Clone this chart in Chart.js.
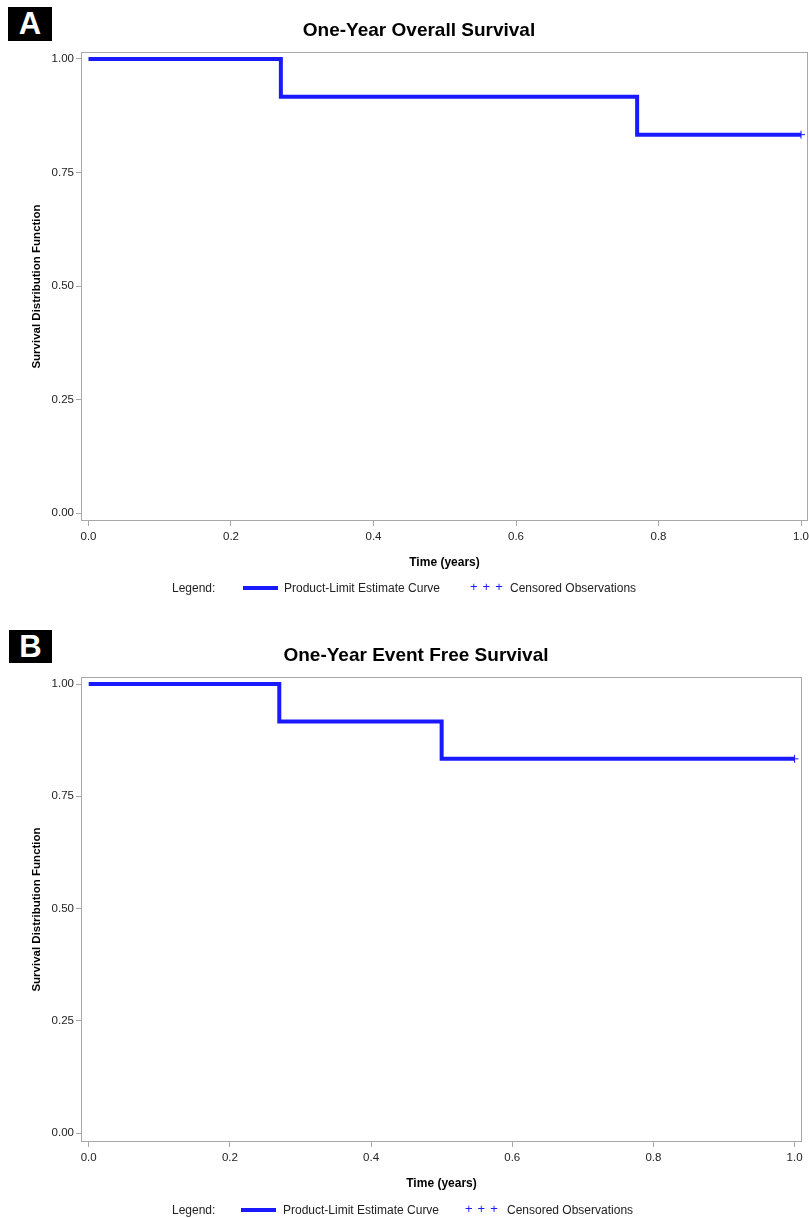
<!DOCTYPE html>
<html>
<head>
<meta charset="utf-8">
<script src="https://cdn.jsdelivr.net/npm/chart.js@4.4.1/dist/chart.umd.min.js"></script>
<style>
  body { margin: 0; background: #fff; font-family: "Liberation Sans", Arial, sans-serif; overflow: hidden; }
  .panel { position: absolute; left: 0; width: 809px; }
  .tag { position: absolute; background: #000; color: #fff; font-weight: bold; font-size: 31px;
         line-height: 34px; text-align: center; }
  .lg { position: absolute; font-size: 12px; color: #222; white-space: nowrap; line-height: 14px; }
  .lg.plus { color: #1a1aff; letter-spacing: 5px; font-size: 13px; }
  .lg.bar { height: 4px; background: #1a1aff; }
</style>
</head>
<body>

<div class="tag" style="left:8px;top:7px;width:44px;height:34px;">A</div>
<div class="panel" style="top:0;height:600px;width:815px;"><canvas id="chartA"></canvas></div>
<div class="lg" style="left:172px;top:581px;">Legend:</div>
<div class="lg bar" style="left:243px;top:586px;width:35px;"></div>
<div class="lg" style="left:284px;top:581px;">Product-Limit Estimate Curve</div>
<div class="lg plus" style="left:470px;top:580px;">+++</div>
<div class="lg" style="left:510px;top:581px;">Censored Observations</div>

<div class="tag" style="left:9px;top:630px;width:43px;height:33px;line-height:33px;">B</div>
<div class="panel" style="top:620px;height:598px;"><canvas id="chartB"></canvas></div>
<div class="lg" style="left:172px;top:1203px;">Legend:</div>
<div class="lg bar" style="left:241px;top:1208px;width:35px;"></div>
<div class="lg" style="left:283px;top:1203px;">Product-Limit Estimate Curve</div>
<div class="lg plus" style="left:465px;top:1202px;">+++</div>
<div class="lg" style="left:507px;top:1203px;">Censored Observations</div>

<script>
// tick labels
const timeTicks = [0, 0.2, 0.4, 0.6, 0.8, 1.0];
const survTicks = [0, 0.25, 0.5, 0.75, 1.0];

// A: one-year overall survival
const osTimes = [0, 0.27, 0.77, 1.0];
const osSurv = [1.0, 0.9167, 0.8333, 0.8333];
const osCensTimes = [1.0];
const osCensSurv = [0.8333];

// B: one-year event free survival
const efsTimes = [0, 0.27, 0.50, 1.0];
const efsSurv = [1.0, 0.9167, 0.8333, 0.8333];
const efsCensTimes = [1.0];
const efsCensSurv = [0.8333];

const blue = '#1a1aff';
const frameGrey = '#a8a8a8';

// draws the box round the plot area
const framePlugin = {
  id: 'frame',
  afterDraw(chart) {
    const a = chart.chartArea, ctx = chart.ctx;
    ctx.save();
    ctx.strokeStyle = frameGrey;
    ctx.lineWidth = 1;
    ctx.strokeRect(a.left + 0.5, a.top + 0.5, a.right - a.left - 1, a.bottom - a.top - 1);
    ctx.restore();
  }
};

function pts(xs, ys) {
  return xs.map((x, i) => ({ x: x, y: ys[i] }));
}

function makeChart(id, title, times, surv, censT, censS, lay) {
  new Chart(document.getElementById(id), {
    type: 'line',
    data: {
      datasets: [
        {
          data: pts(times, surv),
          borderColor: blue,
          borderWidth: 4,
          stepped: 'before',
          pointRadius: 0,
          fill: false
        },
        {
          type: 'scatter',
          data: pts(censT, censS),
          pointStyle: 'cross',
          pointRadius: 4,
          borderColor: blue,
          borderWidth: 1
        }
      ]
    },
    options: {
      animation: false,
      responsive: true,
      maintainAspectRatio: false,
      layout: { padding: { left: 30, right: lay.right, top: 0, bottom: lay.bottom } },
      plugins: {
        legend: { display: false },
        tooltip: { enabled: false },
        title: {
          display: true,
          text: title,
          color: '#000',
          font: { family: 'Liberation Sans', size: 19, weight: 'bold' },
          padding: { top: lay.titleTop, bottom: lay.titleBottom }
        }
      },
      scales: {
        x: {
          type: 'linear',
          min: lay.xMin, max: lay.xMax,
          afterBuildTicks: s => { s.ticks = timeTicks.map(v => ({ value: v })); },
          afterFit: s => { s.height = 50; },
          border: { display: false },
          grid: { drawOnChartArea: false, drawTicks: true, tickLength: 5, color: frameGrey },
          ticks: {
            color: '#222', padding: 4,
            font: { family: 'Liberation Sans', size: 11.5 },
            callback: v => v.toFixed(1)
          },
          title: {
            display: true, text: 'Time (years)', color: '#000',
            font: { family: 'Liberation Sans', size: 12, weight: 'bold' },
            padding: { top: 0, bottom: 1 }
          }
        },
        y: {
          type: 'linear',
          min: lay.yMin, max: lay.yMax,
          afterBuildTicks: s => { s.ticks = survTicks.map(v => ({ value: v })); },
          afterFit: s => { s.width = 51; },
          border: { display: false },
          grid: { drawOnChartArea: false, drawTicks: true, tickLength: 5, color: frameGrey },
          ticks: {
            color: '#222', padding: 2,
            font: { family: 'Liberation Sans', size: 11.5 },
            callback: v => v.toFixed(2)
          },
          title: {
            display: true, text: 'Survival Distribution Function', color: '#000',
            font: { family: 'Liberation Sans', size: 11.5, weight: 'bold' },
            padding: { top: 0, bottom: 0 }
          }
        }
      }
    },
    plugins: [framePlugin]
  });
}

makeChart('chartA', 'One-Year Overall Survival', osTimes, osSurv, osCensTimes, osCensSurv,
  { right: 7, bottom: 29, titleTop: 19.6, titleBottom: 9.6,
    xMin: -0.0105, xMax: 1.0098, yMin: -0.0176, yMax: 1.0154 });

makeChart('chartB', 'One-Year Event Free Survival', efsTimes, efsSurv, efsCensTimes, efsCensSurv,
  { right: 7, bottom: 26, titleTop: 24.6, titleBottom: 9.6,
    xMin: -0.0109, xMax: 1.0105, yMin: -0.02, yMax: 1.0156 });
</script>
</body>
</html>
